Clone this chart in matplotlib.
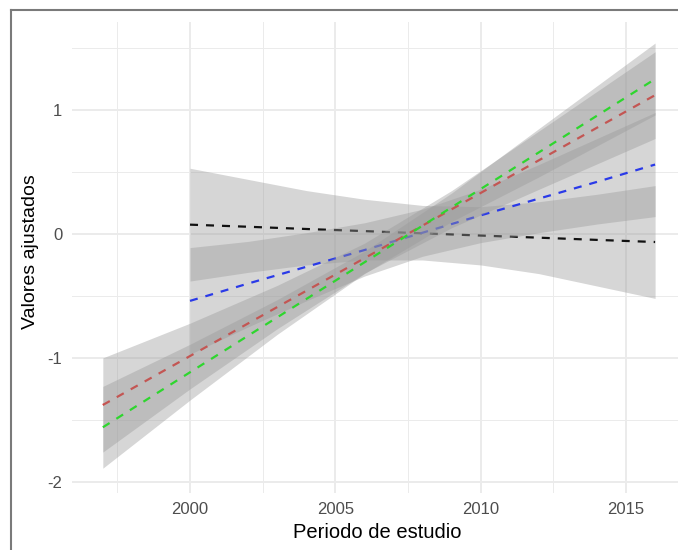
import matplotlib.pyplot as plt
from matplotlib.lines import Line2D

plt.rcParams['font.family'] = ['Liberation Sans', 'DejaVu Sans']
plt.rcParams['axes.unicode_minus'] = False

# fitted values and confidence bands for each model
years_short = [2000, 2002, 2004, 2006, 2008, 2010, 2012, 2014, 2016]
years_long = [1997, 2000, 2003, 2006, 2009, 2012, 2016]

black_fit = [0.075, 0.058, 0.04, 0.023, 0.005, -0.013, -0.03, -0.048, -0.065]
black_low = [-0.38, -0.31, -0.25, -0.21, -0.21, -0.25, -0.32, -0.42, -0.52]
black_high = [0.53, 0.44, 0.35, 0.28, 0.23, 0.22, 0.26, 0.32, 0.39]

blue_fit = [-0.54, -0.40, -0.265, -0.13, 0.01, 0.15, 0.285, 0.42, 0.56]
blue_low = [-0.97, -0.75, -0.54, -0.34, -0.18, -0.07, 0.01, 0.08, 0.14]
blue_high = [-0.11, -0.06, 0.01, 0.09, 0.20, 0.36, 0.56, 0.77, 0.98]

red_fit = [-1.38, -0.985, -0.59, -0.196, 0.199, 0.594, 1.12]
red_low = [-1.76, -1.25, -0.765, -0.317, 0.05, 0.36, 0.77]
red_high = [-1.00, -0.72, -0.415, -0.075, 0.35, 0.83, 1.47]

green_fit = [-1.56, -1.116, -0.673, -0.229, 0.215, 0.658, 1.25]
green_low = [-1.89, -1.34, -0.81, -0.32, 0.10, 0.46, 0.96]
green_high = [-1.23, -0.89, -0.53, -0.14, 0.33, 0.85, 1.54]

x_ticks = [2000, 2005, 2010, 2015]
x_minor = [1997.5, 2002.5, 2007.5, 2012.5]
y_ticks = [-2, -1, 0, 1]
y_minor = [-1.5, -0.5, 0.5, 1.5]

series = [
    (years_short, black_fit, black_low, black_high, '#111111'),
    (years_short, blue_fit, blue_low, blue_high, '#2a3ae8'),
    (years_long, red_fit, red_low, red_high, '#e02a26'),
    (years_long, green_fit, green_low, green_high, '#2ed62e'),
]

fig = plt.figure(figsize=(6.78, 5.5), dpi=100)
ax = fig.add_axes([72 / 678, 57 / 550, 611 / 678, 471 / 550])

# light grid, no spines or ticks
for x in x_ticks:
    ax.axvline(x, color='#ebebeb', lw=1.4, zorder=0)
for x in x_minor:
    ax.axvline(x, color='#ebebeb', lw=0.7, zorder=0)
for y in y_ticks:
    ax.axhline(y, color='#ebebeb', lw=1.4, zorder=0)
for y in y_minor:
    ax.axhline(y, color='#ebebeb', lw=0.7, zorder=0)

z = 1
for years, fit, low, high, colour in series:
    ax.fill_between(years, low, high, color='#999999', alpha=0.4, lw=0, zorder=z)
    ax.plot(years, fit, color=colour, lw=1.6, linestyle=(0, (3.6, 3.6)), zorder=z + 1)
    z += 2

ax.set_xlim(1995.94, 2016.96)
ax.set_ylim(-2.09, 1.71)
ax.set_xticks(x_ticks)
ax.set_yticks(y_ticks)
ax.tick_params(length=0, labelsize=12, labelcolor='#4d4d4d')
ax.tick_params(axis='x', pad=6.5)
ax.tick_params(axis='y', pad=7)
for spine in ax.spines.values():
    spine.set_visible(False)

fig.text(377 / 678, 1 - 533 / 550, 'Periodo de estudio', ha='center', va='center', fontsize=14.5)
fig.text(31 / 678, 1 - 252 / 550, 'Valores ajustados', ha='center', va='center', rotation=90, fontsize=14)

# frame on the top and left edges
fig.add_artist(Line2D([10.5 / 678, 10.5 / 678], [0, 1 - 9.5 / 550], transform=fig.transFigure,
                      color='#7a7a7a', lw=1.5))
fig.add_artist(Line2D([10.5 / 678, 1], [1 - 9.5 / 550, 1 - 9.5 / 550], transform=fig.transFigure,
                      color='#7a7a7a', lw=1.5))

fig.savefig('out.png', dpi=100)
